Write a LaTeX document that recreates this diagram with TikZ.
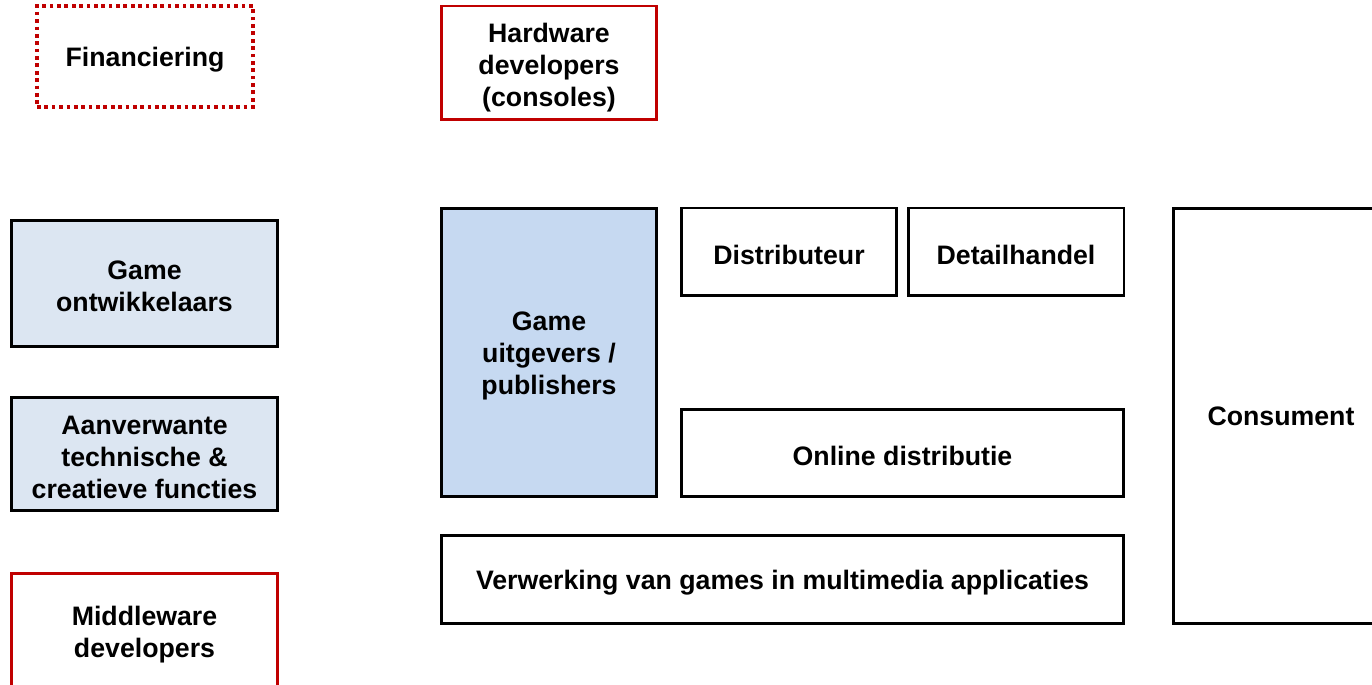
\documentclass[tikz,border=0pt]{standalone}
\usepackage{fontspec}
\setmainfont{Liberation Sans}
\usepackage{xcolor}
\usepackage{tikz}
\usetikzlibrary{positioning}
\definecolor{chainRed}{HTML}{C00000}
\definecolor{devBlue}{HTML}{DCE6F2}
\definecolor{pubBlue}{HTML}{C6D9F1}

\begin{document}
\begin{tikzpicture}[x=0.02cm, y=-0.02cm,
    cbox/.style={rectangle, draw=black, line width=1.7pt, inner sep=0pt, outer sep=0pt},
    redbox/.style={cbox, draw=chainRed},
    dotbox/.style={redbox, line width=2.1pt, dash pattern=on 2.1pt off 2.1pt},
    lbl/.style={font=\fontsize{15.2}{18.2}\selectfont\bfseries, align=center, inner sep=0pt},
    txt/.style={label={[lbl, yshift=-1.7pt]center:{#1}}}
  ]
  \useasboundingbox (0,0) rectangle (1372,685);
  \clip (0,0) rectangle (1372,685);

  \node[dotbox, minimum width=4.32cm, minimum height=2.02cm, txt={Financiering}] (fin) at (145,56.5) {};
  \node[redbox, minimum width=4.32cm, minimum height=2.28cm,
    label={[lbl, yshift=-2.8pt]center:{Hardware\\developers\\(consoles)}}] (hw) at (549,63) {};

  \node[cbox, fill=devBlue, minimum width=5.34cm, minimum height=2.54cm, txt={Game\\ontwikkelaars}] (dev) at (144.5,283.5) {};
  \node[cbox, fill=devBlue, minimum width=5.34cm, minimum height=2.28cm, txt={Aanverwante\\technische \&\\creatieve functies}] (tech) at (144.5,454) {};
  \node[redbox, minimum width=5.34cm, minimum height=2.36cm, txt={Middleware\\developers}] (mid) at (144.5,632) {};

  \node[cbox, fill=pubBlue, minimum width=4.32cm, minimum height=5.78cm, txt={Game\\uitgevers /\\publishers}] (pub) at (549,352.5) {};
  \node[cbox, minimum width=4.32cm, minimum height=1.76cm, txt={Distributeur}] (dist) at (789,252) {};
  \node[cbox, minimum width=4.32cm, minimum height=1.76cm, txt={Detailhandel}] (retail) at (1016,252) {};
  \node[cbox, minimum width=8.86cm, minimum height=1.76cm, txt={Online distributie}] (online) at (902.5,453) {};
  \node[cbox, minimum width=13.66cm, minimum height=1.78cm, txt={Verwerking van games in multimedia applicaties}] (media) at (782.5,579.5) {};
  \node[cbox, minimum width=4.32cm, minimum height=8.32cm, label={[lbl]center:Consument}] (cons) at (1281,416) {};
\end{tikzpicture}
\end{document}
